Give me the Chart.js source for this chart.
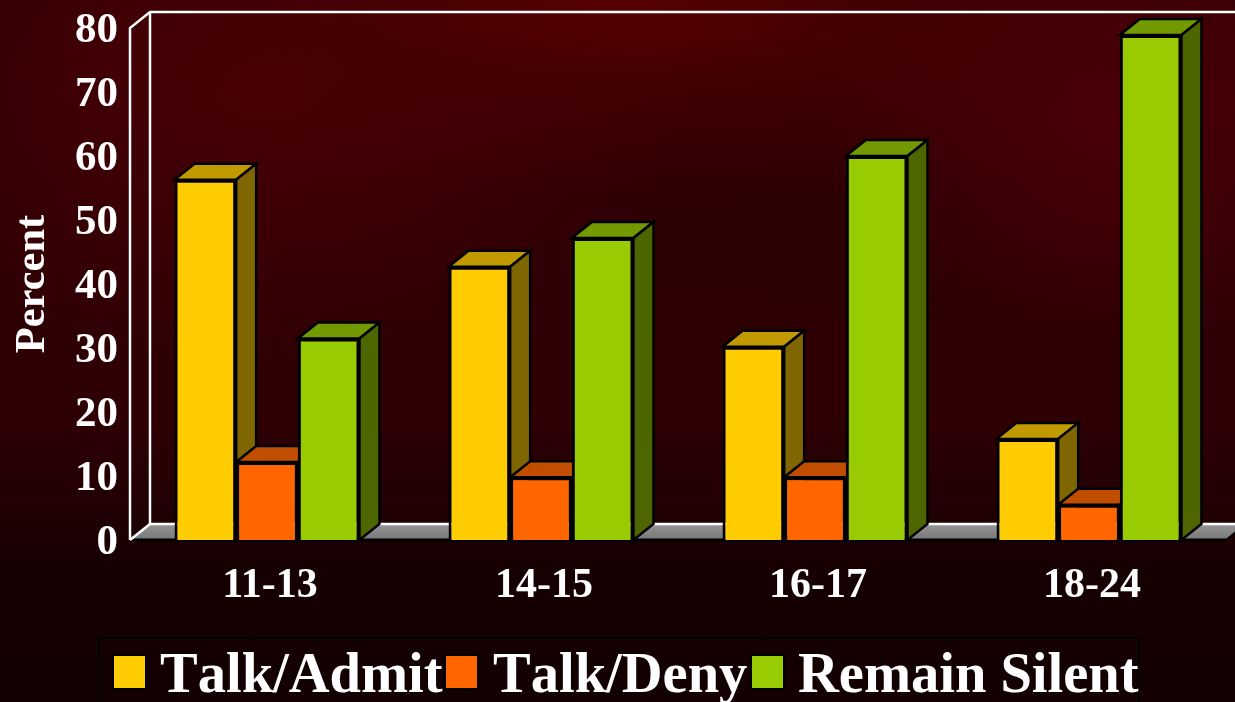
<!DOCTYPE html>
<html>
<head>
<meta charset="utf-8">
<script src="https://cdn.jsdelivr.net/npm/chart.js@4"></script>
<style>
    html, body { margin: 0; padding: 0; width: 1235px; height: 702px; overflow: hidden; background-color: #140002; }
    body {
        background-image:
            radial-gradient(ellipse 280px 80px at 620px 0px, rgba(100, 0, 0, 0.55), rgba(100, 0, 0, 0)),
            radial-gradient(ellipse 300px 220px at 1130px 130px, rgba(85, 0, 8, 0.75), rgba(85, 0, 8, 0)),
            radial-gradient(ellipse 440px 270px at 260px 100px, rgba(80, 0, 5, 0.75), rgba(80, 0, 5, 0)),
            radial-gradient(ellipse 720px 170px at 680px 30px, rgba(85, 0, 0, 0.7), rgba(85, 0, 0, 0)),
            linear-gradient(to bottom, #2c0004 0%, #2e0004 60%, #160002 82%, #120002 100%);
    }
    #wrap { position: absolute; left: 0; top: 0; width: 1235px; height: 702px; }
</style>
</head>
<body>
<div id="wrap"><canvas id="barChart"></canvas></div>
<script>
const categories = ['11-13', '14-15', '16-17', '18-24'];
const talkAdmit = [56.3, 42.7, 30.2, 15.8];
const talkDeny = [12.2, 9.8, 9.8, 5.5];
const remainSilent = [31.5, 47.2, 60, 78.9];
const yTicks = [0, 10, 20, 30, 40, 50, 60, 70, 80];
const seriesNames = ['Talk/Admit', 'Talk/Deny', 'Remain Silent'];

const serif = '"Liberation Serif", "Times New Roman", serif';
const depthX = 20;
const depthY = -16;

function poly(ctx, pts, fill, stroke, width) {
    ctx.beginPath();
    pts.forEach((p, i) => i ? ctx.lineTo(p[0], p[1]) : ctx.moveTo(p[0], p[1]));
    if (fill) {
        ctx.closePath();
        ctx.fillStyle = fill;
        ctx.fill();
    }
    if (stroke) {
        ctx.strokeStyle = stroke;
        ctx.lineWidth = width;
        ctx.lineJoin = 'miter';
        ctx.stroke();
    }
}

// back wall + floor + the top and side of each bar, the front faces are the real bars
const box3d = {
    id: 'box3d',
    afterUpdate(chart) {
        // nudge the tick labels to where the original has them
        chart.scales.y.getLabelItems().forEach(item => { item.options.translation[1] += 3; });
        chart.scales.x.getLabelItems().forEach(item => { item.options.translation[0] += 3; });
    },
    beforeDatasetsDraw(chart) {
        const ctx = chart.ctx;
        const { left, right, top, bottom } = chart.chartArea;
        const far = chart.width + 40;
        ctx.save();

        const floor = ctx.createLinearGradient(0, bottom + depthY, 0, bottom);
        floor.addColorStop(0, '#959595');
        floor.addColorStop(1, '#777777');
        poly(ctx, [[left, bottom], [left + depthX, bottom + depthY], [right + depthX, bottom + depthY], [right, bottom]], floor);
        poly(ctx, [[left, bottom], [right, bottom]], null, '#000000', 3);
        poly(ctx, [[right, bottom], [right + depthX, bottom + depthY]], null, '#000000', 2);

        poly(ctx, [[left, bottom], [left, top], [left + depthX, top + depthY], [far, top + depthY]], null, '#ffffff', 2.5);
        poly(ctx, [[left, bottom], [left + depthX, bottom + depthY], [far, bottom + depthY]], null, '#ffffff', 2.5);
        poly(ctx, [[left + depthX, top + depthY], [left + depthX, bottom + depthY]], null, '#ffffff', 2.5);

        categories.forEach((c, i) => {
            chart.data.datasets.forEach((ds, d) => {
                const bar = chart.getDatasetMeta(d).data[i];
                const x0 = bar.x - bar.width / 2;
                const x1 = bar.x + bar.width / 2;
                poly(ctx, [[x0, bar.y], [x0 + depthX, bar.y + depthY], [x1 + depthX, bar.y + depthY], [x1, bar.y]], ds.topColor, '#000000', 2.5);
                poly(ctx, [[x1, bar.y], [x1 + depthX, bar.y + depthY], [x1 + depthX, bar.base + depthY], [x1, bar.base]], ds.sideColor, '#000000', 2.5);
            });
        });
        ctx.restore();
    },
    afterDraw(chart) {
        const ctx = chart.ctx;
        ctx.save();
        ctx.strokeStyle = '#000000';
        ctx.lineWidth = 2;
        ctx.strokeRect(99, 638, 1040, 80);

        const swatchX = [113, 445, 751];
        const textX = [160, 493, 798];
        ctx.font = 'bold 56.5px ' + serif;
        ctx.fontKerning = 'none';
        ctx.textBaseline = 'alphabetic';
        ctx.textAlign = 'left';
        chart.data.datasets.forEach((ds, d) => {
            ctx.fillStyle = ds.backgroundColor;
            ctx.fillRect(swatchX[d], 655, 33, 34);
            ctx.strokeRect(swatchX[d], 655, 33, 34);
            ctx.fillStyle = '#ffffff';
            ctx.fillText(ds.label, textX[d], 692);
        });
        ctx.restore();
    }
};

new Chart(document.getElementById('barChart'), {
    type: 'bar',
    data: {
        labels: categories,
        datasets: [
            { label: seriesNames[0], data: talkAdmit, backgroundColor: '#ffcc00', topColor: '#c09a00', sideColor: '#806600', borderColor: '#000000', borderWidth: 3 },
            { label: seriesNames[1], data: talkDeny, backgroundColor: '#ff6600', topColor: '#c04d00', sideColor: '#803300', borderColor: '#000000', borderWidth: 3 },
            { label: seriesNames[2], data: remainSilent, backgroundColor: '#99cc00', topColor: '#739900', sideColor: '#4d6600', borderColor: '#000000', borderWidth: 3 }
        ]
    },
    options: {
        responsive: true,
        maintainAspectRatio: false,
        animation: false,
        layout: { autoPadding: false, padding: { top: 28, right: 9, bottom: 0, left: 0 } },
        datasets: { bar: { categoryPercentage: 0.675, barPercentage: 1 } },
        plugins: { legend: { display: false }, tooltip: { enabled: false } },
        scales: {
            x: {
                grid: { display: false },
                border: { display: false },
                afterFit(axis) { axis.height = 162; },
                ticks: { color: '#ffffff', font: { family: serif, size: 42, weight: 'bold' }, padding: 13, maxRotation: 0 }
            },
            y: {
                min: 0,
                max: 80,
                afterBuildTicks(axis) { axis.ticks = yTicks.map(v => ({ value: v })); },
                afterFit(axis) { axis.width = 130; },
                grid: { display: false },
                border: { display: false },
                title: { display: true, text: 'Percent', color: '#ffffff', font: { family: serif, size: 42.5, weight: 'bold' }, padding: { top: 8, bottom: 0 } },
                ticks: { color: '#ffffff', font: { family: serif, size: 43, weight: 'bold', lineHeight: 1 }, padding: 4 }
            }
        }
    },
    plugins: [box3d]
});
</script>
</body>
</html>
